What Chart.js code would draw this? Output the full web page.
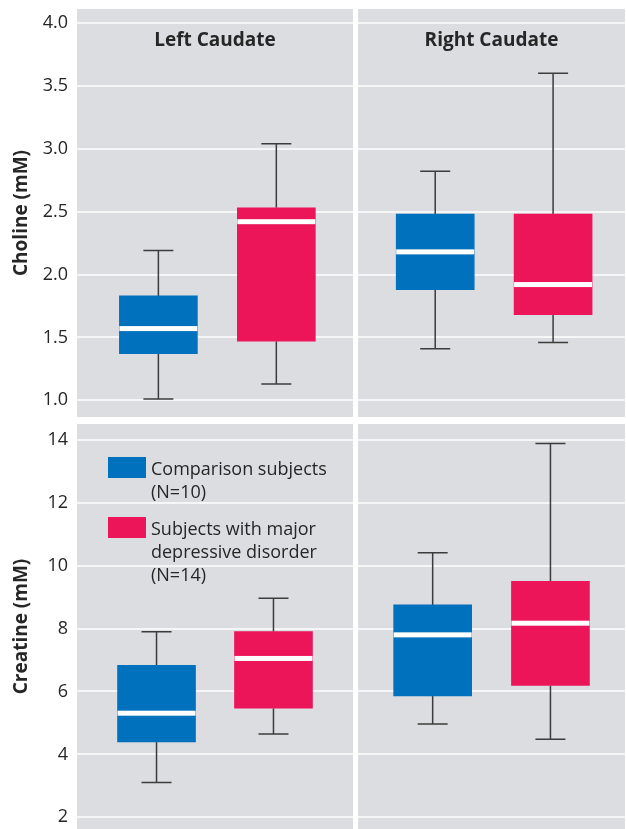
<!DOCTYPE html>
<html>
<head>
<meta charset="utf-8">
<script src="https://cdn.jsdelivr.net/npm/chart.js@4.4.1/dist/chart.umd.min.js"></script>
<style>
  html, body { margin: 0; padding: 0; background: #fff; }
  #wrap { position: relative; width: 626px; height: 829px; overflow: hidden; }
  #wrap canvas { position: absolute; }
  #legend {
    position: absolute; left: 108px; top: 457px;
    font-family: 'Open Sans', sans-serif; font-size: 18px; line-height: 23px; color: #262626;
  }
  .item { position: relative; padding-left: 43px; margin-bottom: 14px; white-space: pre-line; }
  .swatch { position: absolute; left: 0; top: 0; width: 38px; height: 21px; }
</style>
</head>
<body>
<div id="wrap">
  <canvas id="cholineLeft" width="353" height="417" style="left:0;top:0"></canvas>
  <canvas id="cholineRight" width="267" height="417" style="left:358px;top:0"></canvas>
  <canvas id="creatineLeft" width="353" height="405" style="left:0;top:424px"></canvas>
  <canvas id="creatineRight" width="267" height="405" style="left:358px;top:424px"></canvas>
  <div id="legend"></div>
</div>
<script>
// Groups and regions
const groups = ['Comparison subjects', 'Subjects with major depressive disorder'];
const groupN = [10, 14];
const legendLabels = ['Comparison subjects\n(N=10)', 'Subjects with major\ndepressive disorder\n(N=14)'];
const regions = ['Left Caudate', 'Right Caudate'];

// Tick labels
const cholineTicks = [1.0, 1.5, 2.0, 2.5, 3.0, 3.5, 4.0];
const creatineTicks = [2, 4, 6, 8, 10, 12, 14];

// Box stats: [min, q1, median, q3, max] (mM)
const cholineLeftComparison = [1.01, 1.37, 1.57, 1.83, 2.19];
const cholineLeftMDD = [1.13, 1.47, 2.42, 2.53, 3.04];
const cholineRightComparison = [1.41, 1.88, 2.18, 2.48, 2.82];
const cholineRightMDD = [1.46, 1.68, 1.92, 2.48, 3.60];
const creatineLeftComparison = [3.11, 4.40, 5.31, 6.83, 7.90];
const creatineLeftMDD = [4.65, 5.47, 7.05, 7.90, 8.96];
const creatineRightComparison = [4.97, 5.86, 7.80, 8.75, 10.41];
const creatineRightMDD = [4.48, 6.19, 8.17, 9.50, 13.88];

const colors = ['#0071bc', '#ed1559'];
const panelGray = '#dcdde0';
const textColor = '#262626';
const fontFamily = "'Open Sans', sans-serif";

Chart.defaults.font.family = fontFamily;
Chart.defaults.color = textColor;

// Draws background, whiskers, medians and panel title
const boxPlugin = {
  id: 'boxes',
  beforeDraw(chart) {
    const a = chart.chartArea;
    const ctx = chart.ctx;
    ctx.save();
    ctx.fillStyle = panelGray;
    ctx.fillRect(a.left, a.top, a.right - a.left, a.bottom - a.top);
    ctx.restore();
  },
  beforeDatasetsDraw(chart) {
    const ctx = chart.ctx;
    const y = chart.scales.y;
    const meta = chart.getDatasetMeta(0);
    const stats = chart.data.datasets[0].stats;
    ctx.save();
    ctx.strokeStyle = '#3c3c3c';
    ctx.lineWidth = 1.5;
    stats.forEach(function(s, i) {
      const x = meta.data[i].x;
      const yMin = y.getPixelForValue(s[0]);
      const yQ1 = y.getPixelForValue(s[1]);
      const yQ3 = y.getPixelForValue(s[3]);
      const yMax = y.getPixelForValue(s[4]);
      ctx.beginPath();
      ctx.moveTo(x, yMax); ctx.lineTo(x, yQ3);
      ctx.moveTo(x, yQ1); ctx.lineTo(x, yMin);
      ctx.moveTo(x - 15, yMax); ctx.lineTo(x + 15, yMax);
      ctx.moveTo(x - 15, yMin); ctx.lineTo(x + 15, yMin);
      ctx.stroke();
    });
    ctx.restore();
  },
  afterDatasetsDraw(chart) {
    const ctx = chart.ctx;
    const y = chart.scales.y;
    const meta = chart.getDatasetMeta(0);
    const stats = chart.data.datasets[0].stats;
    ctx.save();
    ctx.fillStyle = '#ffffff';
    stats.forEach(function(s, i) {
      const bar = meta.data[i];
      const yMed = y.getPixelForValue(s[2]);
      ctx.fillRect(bar.x - bar.width / 2, yMed - 2.5, bar.width, 5);
    });
    ctx.restore();
  },
  afterDraw(chart, args, opts) {
    if (!opts.title) return;
    const a = chart.chartArea;
    const ctx = chart.ctx;
    ctx.save();
    ctx.fillStyle = textColor;
    ctx.font = 'bold 19px ' + fontFamily;
    ctx.textAlign = 'center';
    ctx.textBaseline = 'middle';
    ctx.fillText(opts.title, (a.left + a.right) / 2, a.top + 32);
    ctx.restore();
  }
};

function makeBoxChart(id, cfg) {
  const ctx = document.getElementById(id).getContext('2d');
  const showAxis = !!cfg.axisTitle;
  return new Chart(ctx, {
    type: 'bar',
    data: {
      datasets: [{
        data: cfg.stats.map(function(s, i) { return { x: i + 1, y: [s[1], s[3]] }; }),
        stats: cfg.stats,
        backgroundColor: colors,
        borderWidth: 0,
        barThickness: 78
      }]
    },
    options: {
      responsive: false,
      animation: false,
      layout: { padding: { top: cfg.padTop || 0, left: 0, right: 0, bottom: 0 } },
      plugins: {
        legend: { display: false },
        tooltip: { enabled: false },
        boxes: { title: cfg.title }
      },
      scales: {
        x: {
          type: 'linear',
          display: false,
          offset: false,
          min: cfg.xRange[0],
          max: cfg.xRange[1]
        },
        y: {
          min: cfg.yRange[0],
          max: cfg.yRange[1],
          afterBuildTicks: function(s) { s.ticks = cfg.ticks.map(function(v) { return { value: v }; }); },
          afterFit: function(s) {
            s.width = showAxis ? 77 : 0;
            s.paddingTop = 0;
            s.paddingBottom = 0;
          },
          grid: { color: '#f6f6f6', lineWidth: 2, drawTicks: false },
          border: { display: false },
          ticks: {
            display: showAxis,
            padding: 9,
            color: textColor,
            font: { size: 18 },
            callback: cfg.format
          },
          title: {
            display: showAxis,
            text: cfg.axisTitle,
            color: textColor,
            font: { size: 19, weight: 'bold' },
            padding: { top: 10, bottom: 0 }
          }
        }
      }
    },
    plugins: [boxPlugin]
  });
}

const oneDecimal = function(v) { return v.toFixed(1); };
const integer = function(v) { return String(v); };

makeBoxChart('cholineLeft', {
  stats: [cholineLeftComparison, cholineLeftMDD],
  ticks: cholineTicks, yRange: [0.867, 4.111], xRange: [0.31, 2.65],
  padTop: 9, title: regions[0], axisTitle: 'Choline (mM)', format: oneDecimal
});
makeBoxChart('cholineRight', {
  stats: [cholineRightComparison, cholineRightMDD],
  ticks: cholineTicks, yRange: [0.867, 4.111], xRange: [0.345, 2.61],
  padTop: 9, title: regions[1]
});
makeBoxChart('creatineLeft', {
  stats: [creatineLeftComparison, creatineLeftMDD],
  ticks: creatineTicks, yRange: [1.63, 14.5], xRange: [0.32, 2.68],
  axisTitle: 'Creatine (mM)', format: integer
});
makeBoxChart('creatineRight', {
  stats: [creatineRightComparison, creatineRightMDD],
  ticks: creatineTicks, yRange: [1.63, 14.5], xRange: [0.366, 2.633]
});

// HTML legend inside the lower left panel
const legend = document.getElementById('legend');
groups.forEach(function(g, i) {
  const item = document.createElement('div');
  item.className = 'item';
  item.title = g + ' (N=' + groupN[i] + ')';
  const sw = document.createElement('span');
  sw.className = 'swatch';
  sw.style.background = colors[i];
  item.appendChild(sw);
  item.appendChild(document.createTextNode(legendLabels[i]));
  legend.appendChild(item);
});
</script>
</body>
</html>
